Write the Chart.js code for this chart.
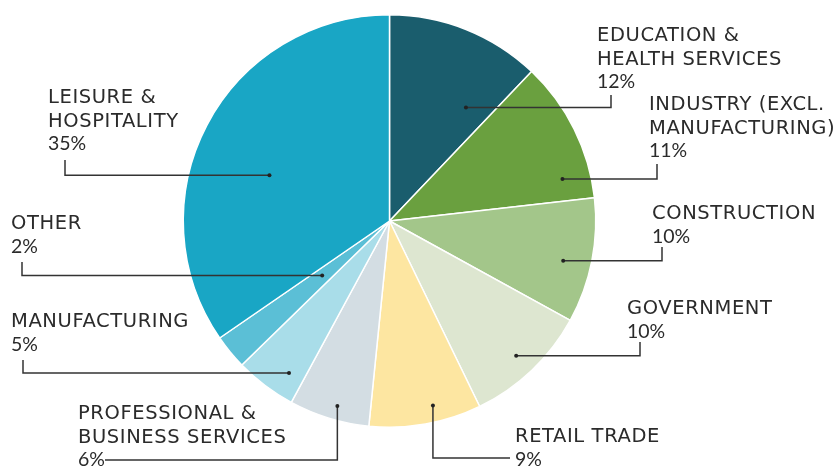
<!DOCTYPE html>
<html>
<head>
<meta charset="utf-8">
<script src="https://cdn.jsdelivr.net/npm/chart.js@4.4.1/dist/chart.umd.min.js"></script>
<style>
    html, body { margin: 0; padding: 0; background: #ffffff; }
    #grafico { display: block; }
</style>
</head>
<body>
<canvas id="grafico" width="837" height="468"></canvas>
<script>
// --- 1. DADOS ---
const categorias = [
    ['EDUCATION &', 'HEALTH SERVICES'],
    ['INDUSTRY (EXCL.', 'MANUFACTURING)'],
    ['CONSTRUCTION'],
    ['GOVERNMENT'],
    ['RETAIL TRADE'],
    ['PROFESSIONAL &', 'BUSINESS SERVICES'],
    ['MANUFACTURING'],
    ['OTHER'],
    ['LEISURE &', 'HOSPITALITY']
];
// tamanho das fatias e percentuais mostrados nos r√≥tulos
const valores = [12.1, 11.1, 9.8, 9.8, 8.8, 6.3, 4.8, 2.7, 34.6];
const percentuais = [12, 11, 10, 10, 9, 6, 5, 2, 35];
const cores = ['#1a5d6d', '#6aa03f', '#a3c68a', '#dde6d0', '#fde6a1', '#d3dde3', '#a9dde9', '#5bbfd6', '#19a6c5'];

// --- 2. POSI√á√ÉO DOS R√ìTULOS E LINHAS-GUIA ---
// t = fra√ß√£o do √¢ngulo da fatia, r = fra√ß√£o do raio (onde fica o ponto)
// tipo 'h': sai na horizontal at√© cx e sobe at√© cy | tipo 'v': desce at√© cy e segue at√© cx
const guias = [
    { t: 0.78,  r: 0.663, tipo: 'h', cx: 611, cy: 95,  tx: 597, ty: 41 },
    { t: 0.82,  r: 0.863, tipo: 'h', cx: 657, cy: 164, tx: 649, ty: 110 },
    { t: 0.55,  r: 0.864, tipo: 'h', cx: 662, cy: 247, tx: 652, ty: 219 },
    { t: 0.51,  r: 0.897, tipo: 'h', cx: 640, cy: 342, tx: 627, ty: 314 },
    { t: 0.40,  r: 0.919, tipo: 'v', cx: 510, cy: 458, tx: 515, ty: 442 },
    { t: 0.44,  r: 0.932, tipo: 'v', cx: 105, cy: 460, tx: 78,  ty: 419 },
    { t: 0.29,  r: 0.884, tipo: 'h', cx: 23,  cy: 360, tx: 11,  ty: 327 },
    { t: 0.54,  r: 0.42,  tipo: 'h', cx: 22,  cy: 262, tx: 11,  ty: 229 },
    { t: 0.445, r: 0.623, tipo: 'h', cx: 65,  cy: 160, tx: 48,  ty: 103 }
];
const alturaLinha = 23.5;

// --- 3. PLUGIN PARA DESENHAR R√ìTULOS ---
const pluginRotulos = {
    id: 'rotulos',
    afterDatasetsDraw(chart) {
        const ctx = chart.ctx;
        const arcos = chart.getDatasetMeta(0).data;
        ctx.save();
        arcos.forEach((arco, i) => {
            const g = guias[i];
            const p = arco.getProps(['x', 'y', 'startAngle', 'endAngle', 'outerRadius'], true);
            const ang = p.startAngle + (p.endAngle - p.startAngle) * g.t;
            const px = p.x + Math.cos(ang) * p.outerRadius * g.r;
            const py = p.y + Math.sin(ang) * p.outerRadius * g.r;

            // linha-guia
            ctx.strokeStyle = '#333333';
            ctx.lineWidth = 1.5;
            ctx.beginPath();
            ctx.moveTo(px, py);
            if (g.tipo === 'h') {
                ctx.lineTo(g.cx, py);
                ctx.lineTo(g.cx, g.cy);
            } else {
                ctx.lineTo(px, g.cy);
                ctx.lineTo(g.cx, g.cy);
            }
            ctx.stroke();

            // ponto
            ctx.fillStyle = '#222222';
            ctx.beginPath();
            ctx.arc(px, py, 2, 0, Math.PI * 2);
            ctx.fill();

            // texto
            ctx.textBaseline = 'alphabetic';
            ctx.textAlign = 'left';
            ctx.fillStyle = '#2b2b2b';
            ctx.font = '19.5px "DejaVu Sans"';
            ctx.letterSpacing = '0.6px';
            const linhas = categorias[i];
            linhas.forEach((txt, k) => {
                ctx.fillText(txt, g.tx, g.ty + k * alturaLinha);
            });
            ctx.fillStyle = '#2b2b2b';
            ctx.font = '19.5px Lato';
            ctx.letterSpacing = '0px';
            ctx.fillText(percentuais[i] + '%', g.tx, g.ty + linhas.length * alturaLinha);
        });
        ctx.restore();
    }
};

// --- 4. GR√ÅFICO ---
new Chart(document.getElementById('grafico'), {
    type: 'pie',
    data: {
        labels: categorias.map(l => l.join(' ')),
        datasets: [{
            data: valores,
            backgroundColor: cores,
            borderColor: '#ffffff',
            borderWidth: 1.5,
            hoverOffset: 0
        }]
    },
    options: {
        responsive: false,
        animation: false,
        layout: { padding: { top: 14, bottom: 40, left: 100, right: 158 } },
        plugins: {
            legend: { display: false },
            tooltip: { enabled: false }
        }
    },
    plugins: [pluginRotulos]
});
</script>
</body>
</html>
